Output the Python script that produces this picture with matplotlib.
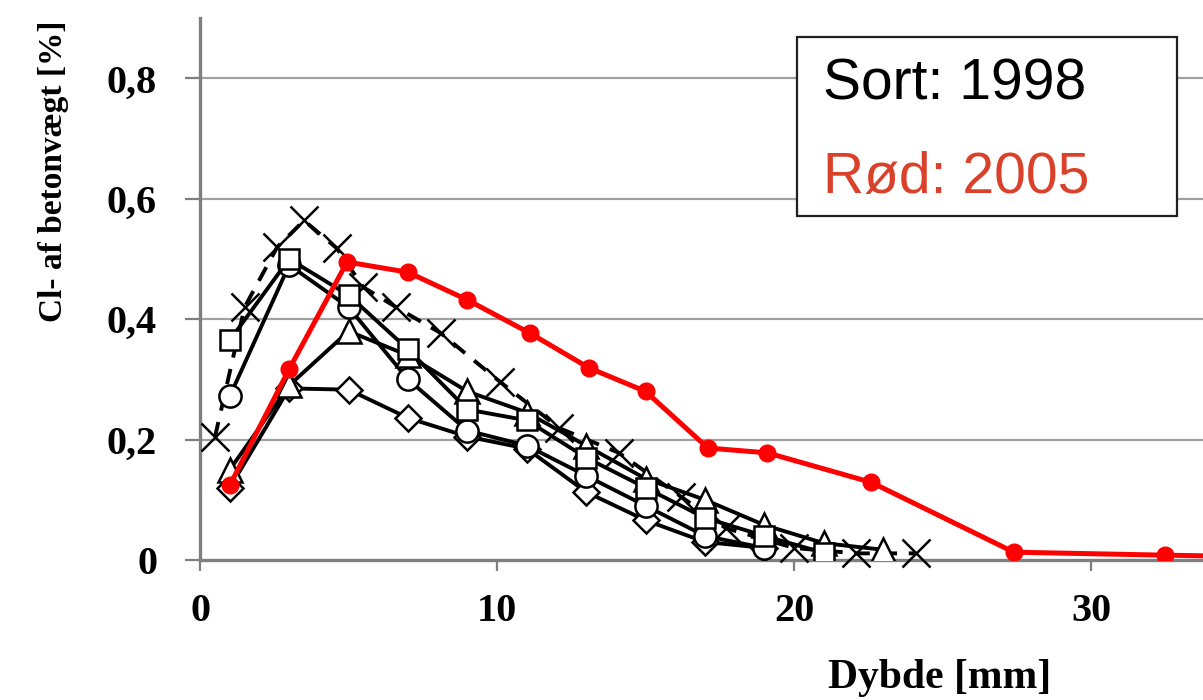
import matplotlib
matplotlib.use("Agg")
import matplotlib.pyplot as plt
from matplotlib.patches import Rectangle

# ---------------- data ----------------
x_diamond = [1, 3, 5, 7, 9, 11, 13, 15, 17, 19]
y_diamond = [0.12, 0.285, 0.283, 0.236, 0.205, 0.185, 0.113, 0.066, 0.03, 0.02]

x_circle = [1, 3, 5, 7, 9, 11, 13, 15, 17, 19]
y_circle = [0.272, 0.49, 0.42, 0.30, 0.215, 0.19, 0.14, 0.09, 0.04, 0.02]

x_triangle = [1, 3, 5, 7, 9, 11, 13, 15, 17, 19, 21, 23]
y_triangle = [0.15, 0.29, 0.38, 0.34, 0.28, 0.245, 0.19, 0.135, 0.10, 0.058, 0.028, 0.017]

x_square = [1, 3, 5, 7, 9, 11, 13, 15, 17, 19, 21]
y_square = [0.365, 0.50, 0.44, 0.35, 0.25, 0.232, 0.17, 0.12, 0.07, 0.04, 0.012]

x_cross = [0.5, 1.5, 2.6, 3.5, 4.6, 5.5, 6.6, 8.1, 10.1, 12.1, 14.1, 16.2, 17.7, 20.0, 22.1, 24.1]
y_cross = [0.204, 0.42, 0.52, 0.564, 0.518, 0.453, 0.42, 0.377, 0.296, 0.219, 0.178, 0.105, 0.053, 0.02, 0.011, 0.011]

x_red = [1.0, 3.0, 4.95, 7.0, 9.0, 11.1, 13.1, 15.0, 17.1, 19.1, 22.6, 27.4, 32.5, 35.0]
y_red = [0.124, 0.317, 0.495, 0.478, 0.432, 0.377, 0.319, 0.280, 0.186, 0.178, 0.129, 0.013, 0.008, 0.006]

y_ticks = [0, 0.2, 0.4, 0.6, 0.8]
y_ticklabels = ["0", "0,2", "0,4", "0,6", "0,8"]
x_ticks = [0, 10, 20, 30]
x_ticklabels = ["0", "10", "20", "30"]

x_label = "Dybde [mm]"
y_label = "Cl- af betonvægt [%]"
legend_black = "Sort: 1998"
legend_red = "Rød: 2005"

# ---------------- figure ----------------
fig = plt.figure(figsize=(12.03, 7.0), dpi=100)
ax = fig.add_axes([0.1663, 0.2, 0.8337, 0.774])
ax.set_xlim(0, 33.77)
ax.set_ylim(0, 0.9)

grey = "#7f7f7f"
for yv in y_ticks[1:]:
    ax.axhline(yv, color="#a0a0a0", lw=1.6, zorder=0)

for s in ["top", "right"]:
    ax.spines[s].set_visible(False)
for s in ["left", "bottom"]:
    ax.spines[s].set_color(grey)
    ax.spines[s].set_linewidth(2.4)

serif = ["Liberation Serif", "DejaVu Serif"]
ax.set_yticks(y_ticks)
ax.set_yticklabels(y_ticklabels, fontfamily=serif, fontweight="bold", fontsize=29)
ax.set_xticks(x_ticks)
ax.set_xticklabels(x_ticklabels, fontfamily=serif, fontweight="bold", fontsize=29)
ax.tick_params(axis="y", length=11, width=1.6, color=grey, pad=20)
ax.tick_params(axis="x", length=8, width=1.6, color=grey, pad=16)

ax.set_xlabel(x_label, fontfamily=serif, fontweight="bold", fontsize=30)
ax.xaxis.set_label_coords((940 - 200) / 1003, -0.182)
ax.set_ylabel(y_label, fontfamily=serif, fontweight="bold", fontsize=24)
ax.yaxis.set_label_coords(-0.166 + 35 / 1003, (560 - 171) / 542)

lw = 2.8
mew = 1.8
ax.plot(x_cross, y_cross, color="black", lw=lw, ls=(0, (4, 3)), marker="x",
        ms=20, mew=1.8, zorder=3, clip_on=False)
ax.plot(x_diamond, y_diamond, color="black", lw=lw, marker="D", ms=13,
        mfc="white", mec="black", mew=mew, zorder=4)
ax.plot(x_circle, y_circle, color="black", lw=lw, marker="o", ms=16,
        mfc="white", mec="black", mew=mew, zorder=4)
ax.plot(x_triangle, y_triangle, color="black", lw=lw, marker="^", ms=17,
        mfc="white", mec="black", mew=mew, zorder=4)
ax.plot(x_square, y_square, color="black", lw=lw, marker="s", ms=15,
        mfc="white", mec="black", mew=mew, zorder=4)
ax.plot(x_red, y_red, color="#ff0000", lw=3.6, marker="o", ms=12,
        mfc="#ff0000", mec="#ff0000", zorder=6)

# legend-like text box
box = Rectangle((797 / 1203, (700 - 216) / 700), 380 / 1203, 179 / 700,
                transform=fig.transFigure, facecolor="white",
                edgecolor="#202020", lw=1.6, zorder=10)
fig.patches.append(box)
sans = ["Liberation Sans", "DejaVu Sans"]
fig.text(823 / 1203, (700 - 100) / 700, legend_black, fontfamily=sans,
         fontsize=41, color="black", va="baseline", ha="left", zorder=11)
fig.text(823 / 1203, (700 - 193) / 700, legend_red, fontfamily=sans,
         fontsize=41, color="#d9412b", va="baseline", ha="left", zorder=11)

fig.savefig("out.png", dpi=100)
